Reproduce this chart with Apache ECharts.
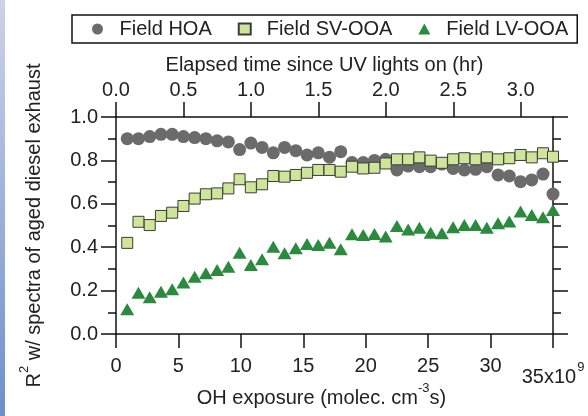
<!DOCTYPE html>
<html>
<head>
<meta charset="utf-8">
<script src="https://cdn.jsdelivr.net/npm/echarts@6/dist/echarts.min.js"></script>
<style>
  html, body { margin: 0; padding: 0; background: #ffffff; }
  #chart { width: 588px; height: 416px; }
</style>
</head>
<body>
<div id="chart"></div>
<script>
// OH exposure of each measurement (units of 1e9 molec. cm^-3 s)
const ohExposure = [0.9, 1.8, 2.7, 3.6, 4.5, 5.4, 6.3, 7.2, 8.1, 9.0, 9.9, 10.8, 11.7, 12.6, 13.5,
  14.4, 15.3, 16.2, 17.1, 18.0, 18.9, 19.8, 20.7, 21.6, 22.5, 23.4, 24.3, 25.2, 26.1, 27.0,
  27.9, 28.8, 29.7, 30.6, 31.5, 32.4, 33.3, 34.2, 35.0];

// R^2 of each field factor against the aged diesel exhaust spectra
const fieldHOA = [0.90, 0.90, 0.91, 0.92, 0.92, 0.91, 0.905, 0.90, 0.89, 0.885, 0.85, 0.88, 0.86,
  0.835, 0.86, 0.845, 0.825, 0.835, 0.815, 0.84, 0.79, 0.79, 0.80, 0.805, 0.756, 0.774, 0.771,
  0.771, 0.783, 0.763, 0.756, 0.759, 0.771, 0.733, 0.728, 0.702, 0.71, 0.737, 0.645];
const fieldSVOOA = [0.42, 0.517, 0.502, 0.544, 0.559, 0.59, 0.624, 0.644, 0.648, 0.671, 0.713, 0.676,
  0.69, 0.728, 0.725, 0.733, 0.743, 0.756, 0.756, 0.748, 0.771, 0.763, 0.766, 0.786, 0.805, 0.805,
  0.814, 0.799, 0.789, 0.805, 0.81, 0.805, 0.814, 0.805, 0.81, 0.825, 0.814, 0.833, 0.817];
const fieldLVOOA = [0.114, 0.19, 0.169, 0.195, 0.206, 0.237, 0.264, 0.28, 0.295, 0.31, 0.375, 0.318,
  0.344, 0.402, 0.372, 0.395, 0.415, 0.41, 0.421, 0.39, 0.46, 0.456, 0.461, 0.449, 0.498, 0.482,
  0.49, 0.467, 0.464, 0.492, 0.502, 0.502, 0.49, 0.51, 0.518, 0.564, 0.548, 0.538, 0.571];

// Axis ticks
const exposureTicks = [0, 5, 10, 15, 20, 25, 30, 35];
const hourTicks = [0, 0.5, 1.0, 1.5, 2.0, 2.5, 3.0];
const hourMax = 3.239;           // elapsed hours at the right end of the exposure axis
const seriesNames = ['Field HOA', 'Field SV-OOA', 'Field LV-OOA'];
const legendIcons = ['circle', 'rect', 'triangle'];

const FONT = '"Liberation Sans", Arial, Helvetica, sans-serif';
const INK = '#111111';
const TEXT = '#222222';

const pairs = ys => ohExposure.map((x, i) => [x, ys[i]]);

const chart = echarts.init(document.getElementById('chart'), null, { renderer: 'canvas' });

const lineStyle = { color: INK, width: 1.5 };

chart.setOption({
  animation: false,
  backgroundColor: '#ffffff',
  textStyle: { fontFamily: FONT },
  graphic: [{
    type: 'rect',
    left: 0, top: 0,
    shape: { width: 5, height: 416 },
    style: {
      fill: new echarts.graphic.LinearGradient(0, 0, 0, 1, [
        { offset: 0, color: '#cdd2ea' },
        { offset: 1, color: '#6f8fcb' }
      ])
    },
    silent: true
  }],
  legend: {
    data: seriesNames.map((name, i) => ({ name, icon: legendIcons[i] })),
    left: 72, top: 15,
    itemWidth: 12, itemHeight: 11, itemGap: 26,
    symbolKeepAspect: true,
    padding: [4, 9, 4, 20],
    borderColor: INK, borderWidth: 1.5,
    textStyle: { fontSize: 20, color: TEXT, fontFamily: FONT, padding: [0, 0, 0, 11] }
  },
  grid: {
    left: 116, top: 117, width: 437, height: 217,
    containLabel: false, outerBoundsMode: 'none'
  },
  xAxis: [{
    type: 'value', position: 'bottom',
    min: 0, max: 35, interval: 5,
    axisLine: { show: true, onZero: false, lineStyle },
    axisTick: { show: true, length: 14, lineStyle },
    splitLine: { show: false },
    axisLabel: {
      fontSize: 20, color: TEXT, fontFamily: FONT, margin: 22,
      formatter: v => v === 35 ? '{b|35x10}{s|9}' : String(v),
      rich: {
        b: { fontSize: 20, color: TEXT, fontFamily: FONT, lineHeight: 31, verticalAlign: 'bottom' },
        s: { fontSize: 13, color: TEXT, fontFamily: FONT, verticalAlign: 'top', padding: [5, 0, 0, 1] }
      }
    },
    name: '{t|OH exposure (molec. cm}{s|-3}{t|s)}',
    nameLocation: 'middle', nameGap: 48, nameMoveOverlap: false,
    nameTextStyle: {
      padding: [0, 26, 0, 0],
      rich: {
        t: { fontSize: 20, color: TEXT, fontFamily: FONT, verticalAlign: 'bottom', lineHeight: 26 },
        s: { fontSize: 13, color: TEXT, fontFamily: FONT, verticalAlign: 'top' }
      }
    }
  }, {
    type: 'value', position: 'top',
    min: 0, max: hourMax,
    axisLine: { show: true, onZero: false, lineStyle },
    axisTick: { show: true, length: 15, lineStyle, customValues: hourTicks },
    splitLine: { show: false },
    axisLabel: {
      fontSize: 20, color: TEXT, fontFamily: FONT, margin: 17,
      customValues: hourTicks,
      formatter: v => v.toFixed(1)
    },
    name: 'Elapsed time since UV lights on (hr)',
    nameLocation: 'middle', nameGap: 42, nameMoveOverlap: false,
    nameTextStyle: { fontSize: 20, color: TEXT, fontFamily: FONT, padding: [0, 20, 0, 0] }
  }],
  yAxis: [{
    type: 'value', position: 'left',
    min: 0, max: 1, interval: 0.2,
    axisLine: { show: true, onZero: false, lineStyle },
    axisTick: { show: true, length: 15, lineStyle },
    minorTick: { show: true, splitNumber: 2, length: 8, lineStyle },
    splitLine: { show: false },
    minorSplitLine: { show: false },
    axisLabel: { fontSize: 20, color: TEXT, fontFamily: FONT, margin: 18, formatter: v => v.toFixed(1) },
    name: '{t|R}{s|2}{t| w/ spectra of aged diesel exhaust}',
    nameLocation: 'middle', nameRotate: 90, nameGap: 72,
    nameTextStyle: {
      rich: {
        t: { fontSize: 20, color: TEXT, fontFamily: FONT, verticalAlign: 'bottom', lineHeight: 26 },
        s: { fontSize: 13, color: TEXT, fontFamily: FONT, verticalAlign: 'top' }
      }
    }
  }, {
    type: 'value', position: 'right',
    min: 0, max: 1, interval: 0.2,
    axisLine: { show: true, onZero: false, lineStyle },
    axisTick: { show: true, length: 15, lineStyle },
    minorTick: { show: true, splitNumber: 2, length: 8, lineStyle },
    splitLine: { show: false },
    minorSplitLine: { show: false },
    axisLabel: { show: false }
  }],
  series: [{
    name: seriesNames[0], type: 'scatter', xAxisIndex: 0, yAxisIndex: 0,
    data: pairs(fieldHOA), symbol: 'circle', symbolSize: 13, clip: false,
    itemStyle: { color: '#6b6b6b', opacity: 1 }
  }, {
    name: seriesNames[1], type: 'scatter', xAxisIndex: 0, yAxisIndex: 0,
    data: pairs(fieldSVOOA), symbol: 'rect', symbolSize: 11, clip: false,
    itemStyle: { color: '#cfe69a', borderColor: '#3c3c3c', borderWidth: 1, opacity: 1 }
  }, {
    name: seriesNames[2], type: 'scatter', xAxisIndex: 0, yAxisIndex: 0,
    data: pairs(fieldLVOOA), symbol: 'triangle', symbolSize: [14, 12], clip: false,
    itemStyle: { color: '#2b8a3e', opacity: 1 }
  }]
});
</script>
</body>
</html>
